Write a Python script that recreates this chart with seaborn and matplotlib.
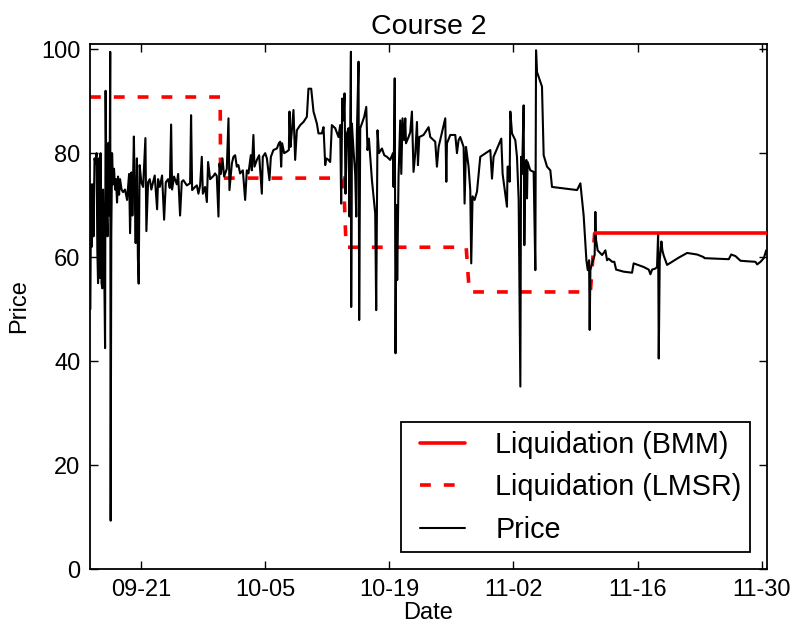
import numpy as np
import pandas as pd
import matplotlib
matplotlib.use("Agg")
import matplotlib.pyplot as plt
import matplotlib.dates as mdates
from matplotlib.lines import Line2D
from matplotlib.legend_handler import HandlerLine2D
import seaborn as sns

# ---------------- data ----------------
base_date = "2013-09-15"   # day 0

price_days = [
    0.28, 0.36, 0.45, 0.54, 0.64, 0.75, 0.86, 0.98, 1.07, 1.15, 1.24, 1.34, 1.43, 1.54, 1.63, 1.71,
    1.82, 1.94, 2.00, 2.11, 2.22, 2.33, 2.44, 2.52, 2.57, 2.64, 2.73, 2.84, 2.95, 3.07, 3.18, 3.29,
    3.40, 3.52, 3.63, 3.80, 3.97, 4.19, 4.42, 4.65, 4.76, 4.91, 5.02, 5.19, 5.28, 5.39, 5.53, 5.64,
    5.73, 5.84, 6.03, 6.23, 6.49, 6.60, 6.79, 6.98, 7.16, 7.35, 7.54, 7.81, 7.92, 8.11, 8.37, 8.60,
    8.79, 9.05, 9.24, 9.39, 9.50, 9.72, 10.03, 10.18, 10.40, 10.59, 10.77, 11.16, 11.53, 11.64, 11.76,
    12.09, 12.29, 12.47, 12.66, 12.85, 12.97, 13.22, 13.42, 13.56, 13.79, 14.16, 14.35, 14.54, 14.73,
    14.84, 15.00, 15.18, 15.37, 15.67, 15.86, 15.97, 16.24, 16.42, 16.61, 16.80, 16.98, 17.17, 17.48,
    17.74, 17.93, 18.11, 18.38, 18.49, 18.67, 18.79, 19.06, 19.32, 19.62, 19.73, 20.00, 20.19, 20.48,
    20.64, 20.93, 21.32, 21.54, 21.69, 21.80, 21.91, 22.14, 22.44, 22.67, 22.74, 22.85, 23.01, 23.19,
    23.38, 23.57, 23.95, 24.32, 24.70, 24.88, 25.19, 25.45, 25.83, 26.01, 26.39, 26.58, 26.77, 26.88,
    27.14, 27.33, 27.52, 27.90, 28.27, 28.46, 28.57, 28.69, 28.83, 28.95, 29.06, 29.22, 29.40, 29.51,
    29.67, 29.70, 29.78, 29.96, 30.15, 30.27, 30.34, 30.53, 30.60, 30.72, 30.91, 31.17, 31.40, 31.54,
    31.70, 31.85, 32.04, 32.41, 32.52, 32.67, 32.83, 33.17, 33.43, 33.73, 34.10, 34.41, 34.48, 34.61,
    34.70, 34.81, 34.89, 35.04, 35.23, 35.35, 35.49, 35.68, 35.80, 35.88, 36.17, 36.36, 36.55, 36.73,
    36.93, 37.12, 37.23, 37.38, 37.86, 38.43, 38.62, 39.18, 39.37, 39.56, 39.94, 40.31, 40.43, 40.50,
    40.88, 41.44, 41.63, 41.81, 42.00, 42.38, 42.49, 42.65, 42.94, 43.13, 43.24, 43.39, 43.62, 43.89,
    44.26, 45.39, 45.58, 45.76, 46.63, 46.78, 47.08, 47.27, 47.34, 47.53, 47.57, 47.65, 47.84, 48.21,
    48.40, 48.59, 48.78, 48.86, 48.97, 49.15, 49.23, 49.34, 49.46, 49.53, 49.60, 49.90, 50.28, 50.47,
    50.55, 50.66, 51.22, 51.41, 51.79, 52.16, 52.35, 55.18, 55.55, 55.92, 56.23, 56.38, 56.53, 56.60,
    56.68, 56.87, 57.16, 57.24, 57.32, 57.50, 58.00, 58.26, 58.37, 58.56, 58.74, 59.13, 59.38, 59.58,
    60.44, 61.38, 61.56, 62.69, 63.26, 63.45, 63.64, 64.01, 64.20, 64.32, 64.39, 64.50, 64.58, 64.69,
    64.80, 64.95, 65.33, 65.90, 66.64, 67.59, 68.72, 69.46, 69.54, 70.98, 72.29, 72.56, 73.04, 73.61,
    74.36, 75.30, 75.49, 75.87, 76.24, 76.51,
]
price_values = [
    50, 74, 62, 74, 64, 79, 78, 80, 61, 55, 79, 56, 80, 55, 54, 73,
    62, 42.5, 92, 70, 64, 82, 68, 99.5, 9.3, 64, 80, 74, 77, 73, 75, 70.5,
    75.5, 72, 75, 73, 72.5, 73, 71, 76, 64.6, 76.3, 68, 83.2, 73, 62.7, 79, 60,
    54.9, 77.7, 74.4, 73.5, 82.9, 65, 74.4, 75, 73, 74.4, 75.7, 69.2, 75, 73.5, 75.7, 67.2,
    74.4, 75, 73.3, 85.5, 73, 75.5, 74, 76, 68, 74.5, 74.8, 73.8, 74.2, 87.3, 72.9,
    73.5, 73.8, 72.2, 73.8, 79.3, 72.2, 73.5, 70.6, 78.3, 75, 75.6, 76.1, 75.6, 67.8,
    78, 76, 79, 75.5, 77, 86.7, 72.9, 78, 79.3, 79.6, 77.4, 77.7, 76.1, 76.7,
    71, 76.7, 76.1, 79.6, 76.7, 83.5, 77.4, 78.7, 79.6, 72.2, 79.3, 80, 79, 74.8,
    79.3, 80.6, 80.9, 81.9, 82.2, 77.4, 81.9, 80, 80.3, 80.6, 88, 81.2, 84.4, 88.3,
    78.7, 84.4, 85.4, 86, 87, 92.4, 92.4, 88, 85.7, 83.8, 83.8, 85, 77.7, 79,
    78.7, 78.3, 85.4, 84.8, 83.1, 85.4, 70.3, 90.5, 86.3, 91.5, 72.2, 83.8, 84.8, 67.8,
    99.5, 50.4, 85.7, 80.6, 76.1, 67.8, 83.8, 97.6, 47.9, 84.8, 85.7, 87, 88.9, 80.6,
    82.8, 79.3, 74.8, 68.4, 49.8, 84.4, 80, 80.9, 79.6, 79.3, 78.7, 80, 73.5, 94.4,
    41.5, 70, 55.6, 75.4, 86.3, 76, 86.7, 82.5, 86.7, 81.9, 83.1, 84, 88, 76.4,
    80, 86, 77.7, 83.1, 83.5, 85, 83.1, 82.2, 77.4, 81.2, 84, 86.7, 74.5, 81.9,
    83.5, 83.5, 80, 82.5, 83.1, 81.2, 70.3, 81.2, 77.4, 72.9, 58.8, 71.7, 71, 72.6,
    79.3, 80.6, 75.1, 79.3, 82.8, 76, 72.2, 69.7, 77.4, 77.4, 74.5, 88, 83.8, 82.5,
    79.3, 71, 35.1, 79.3, 76, 89.2, 62.3, 78, 78.7, 71.3, 78.3, 76.7, 76.4, 57.5,
    99.8, 95.6, 92.8, 79.6, 77.4, 76.7, 73.5, 72.9, 74.2, 68, 59.4, 57.5, 59.4, 46,
    57.5, 58.8, 60.4, 68.7, 63.3, 61.3, 60.4, 61, 61.3, 59.4, 59.7, 59.1, 59.1, 57.6,
    57.2, 57, 58.8, 58.1, 57.6, 56.7, 57.6, 57.8, 58.1, 64.6, 40.5, 59.4, 61, 63,
    61.3, 60.3, 58.5, 59.1, 59.9, 60.8, 60.5, 60, 59.8, 59.7, 59.6, 60.5, 60.2, 59.3,
    59.2, 59.1, 58.6, 59.1, 59.8, 61.3,
]

lmsr_days = [0.24, 14.92, 14.97, 28.83, 29.13, 42.67, 43.02, 56.68, 57.16]
lmsr_values = [90.8, 90.8, 75.2, 75.2, 61.9, 61.9, 53.3, 53.3, 64.7]

bmm_days = [57.16, 76.60]
bmm_values = [64.7, 64.7]

tick_labels = ["09-21", "10-05", "10-19", "11-02", "11-16", "11-30"]
y_ticks = [0, 20, 40, 60, 80, 100]

# ---------------- style ----------------
sns.set_style("ticks")
plt.rcParams["font.family"] = ["Liberation Sans", "DejaVu Sans"]
for key in ["text.color", "axes.labelcolor", "xtick.color", "ytick.color", "axes.edgecolor"]:
    plt.rcParams[key] = "black"
plt.rcParams["xtick.direction"] = "in"
plt.rcParams["ytick.direction"] = "in"

t0 = pd.Timestamp(base_date)
def to_dates(days):
    return t0 + pd.to_timedelta(np.asarray(days, dtype=float), unit="D")

price_df = pd.DataFrame({"Date": to_dates(price_days), "Price": price_values})
lmsr_df = pd.DataFrame({"Date": to_dates(lmsr_days), "Price": lmsr_values})
bmm_df = pd.DataFrame({"Date": to_dates(bmm_days), "Price": bmm_values})

fig = plt.figure(figsize=(7.93, 6.27), dpi=100)
ax = fig.add_axes([90 / 793, 1 - 569 / 627, (767 - 90) / 793, (569 - 44) / 627])

sns.lineplot(data=bmm_df, x="Date", y="Price", ax=ax, color="#ff0000", lw=2.6,
             label="Liquidation (BMM)", estimator=None, sort=False, zorder=3)
sns.lineplot(data=lmsr_df, x="Date", y="Price", ax=ax, color="#ff0000", lw=2.6,
             label="Liquidation (LMSR)", estimator=None, sort=False, zorder=2)
ax.lines[-1].set_dashes([3.0, 3.6])
sns.lineplot(data=price_df, x="Date", y="Price", ax=ax, color="black", lw=1.5,
             label="Price", estimator=None, sort=False, zorder=2.5)

ax.set_xlim(to_dates([min(lmsr_days)])[0], to_dates([max(bmm_days)])[0])
ax.set_ylim(0, 101)
tick_dates = [pd.Timestamp(f"2013-{t}") for t in tick_labels]
ax.set_xticks(tick_dates)
ax.xaxis.set_major_formatter(mdates.DateFormatter("%m-%d"))
ax.set_yticks(y_ticks)

ax.tick_params(axis="both", which="major", direction="in", length=6, width=1,
               top=True, right=True, labelsize=17, pad=7, colors="black")
for s in ax.spines.values():
    s.set_linewidth(1.3)
    s.set_color("black")

ax.set_title("Course 2", fontsize=20.5, pad=7)
ax.set_xlabel("Date", fontsize=17, labelpad=1)
ax.set_ylabel("Price", fontsize=17, labelpad=8)

leg = ax.legend(loc="lower right", fontsize=20.7, frameon=True, fancybox=False,
                edgecolor="black", framealpha=1, handlelength=1.91,
                handletextpad=1.07, labelspacing=0.5, borderpad=0.3,
                borderaxespad=0.58,
                handler_map={Line2D: HandlerLine2D(xpad=0.357)})
leg.get_frame().set_linewidth(1.3)

fig.savefig("out.png", dpi=100)
